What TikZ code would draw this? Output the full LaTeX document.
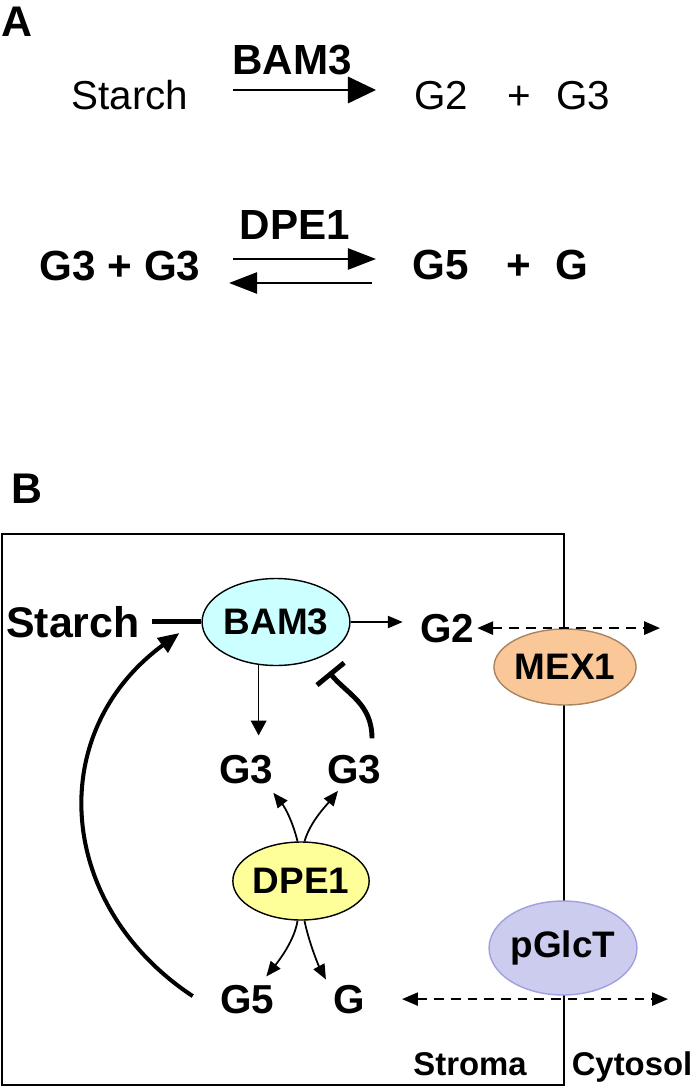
\documentclass[tikz,border=0pt]{standalone}
\usepackage{fontspec}
\setmainfont{Liberation Sans}
\usepackage{tikz}
\usetikzlibrary{
  shapes.geometric,
  arrows.meta,
  positioning
}
\definecolor{BamCyan}{HTML}{CCFFFF}
\definecolor{MexPeach}{HTML}{FAC898}
\definecolor{MexEdge}{HTML}{A88460}
\definecolor{DpeYellow}{HTML}{FFFF99}
\definecolor{GlcLilac}{HTML}{CCCCEE}
\definecolor{GlcEdge}{HTML}{A0A0E0}
\tikzset{
  % Panel letter
  panel/.style={anchor=base, inner sep=0pt, font=\bfseries\fontsize{24.4}{28}\selectfont},
  % Plain sugar text (panel A)
  mol/.style={anchor=base, inner sep=0pt, font=\fontsize{23}{27}\selectfont},
  % Bold sugar text
  bmol/.style={anchor=base, inner sep=0pt, font=\bfseries\fontsize{#1}{28}\selectfont},
  bmol/.default=23,
  % Compartment label
  cmp/.style={anchor=base, inner sep=0pt, font=\bfseries\fontsize{18.7}{22}\selectfont},
  % Enzyme / transporter ellipse
  enz/.style={
    ellipse, draw=black, line width=0.8pt,
    inner sep=0pt, font=\bfseries\fontsize{21}{25}\selectfont
  },
  % Reaction arrows of panel A
  rxn/.style={-{Triangle[length=16pt,width=#1]}, line width=1.4pt},
  rxn/.default=15pt,
  % Thin arrow
  arr/.style={-{Triangle[length=8.5pt,width=#1]}, line width=0.8pt},
  arr/.default=7pt,
  % Dashed transport arrow
  dsh/.style={
    {Triangle[length=9pt,width=7.5pt]}-{Triangle[length=9pt,width=7.5pt]},
    dash pattern=on 5.5pt off 4pt, line width=#1
  },
  dsh/.default=1.2pt,
  % Thick activation
  act/.style={-{Triangle[length=12pt,width=10pt]}, line width=2.3pt},
  % Inhibition
  inhib/.style={-{Bar[width=20pt,line width=2.8pt]}, line width=2.8pt},
  % Membrane box
  wall/.style={draw=black, line width=0.85pt}
}
\begin{document}
\begin{tikzpicture}[x=0.02cm, y=-0.02cm]
  \useasboundingbox (0,0) rectangle (691,1087);

  % Panel A: the two reactions
  \node[panel] (labA) at (17,37) {A};
  \node[mol]      (aStarch) at (130,110) {Starch};
  \node[bmol=24]  (aBam)    at (292,75)  {BAM3};
  \node[mol]      (aG2)     at (441,110) {G2};
  \node[mol]      (aPlusA)  at (519,110) {+};
  \node[mol]      (aG3)     at (583,110) {G3};
  \coordinate (aR1s) at (233,90);
  \coordinate (aR1e) at (376,90);
  \draw[rxn] (aR1s) -- (aR1e);

  \node[bmol=24]  (aDpe)    at (295,240) {DPE1};
  \node[bmol=24]  (aG3G3)   at (120,281) {G3 + G3};
  \node[bmol=24]  (aG5)     at (441,280) {G5};
  \node[bmol=24]  (aPlusB)  at (519,280) {+};
  \node[bmol=24]  (aGlc)    at (572,280) {G};
  \coordinate (aR2s) at (233,259);
  \coordinate (aR2e) at (376,259);
  \coordinate (aR3s) at (372,283);
  \coordinate (aR3e) at (229,283);
  \draw[rxn=12pt] (aR2s) -- (aR2e);
  \draw[rxn=12pt] (aR3s) -- (aR3e);

  % Panel B: stroma box and nodes
  \node[panel] (labB) at (27,503) {B};
  \draw[wall] (2,534) rectangle (564,1085);

  \node[bmol=24.4] (starch) at (73,637) {Starch};
  \node[enz, fill=BamCyan, minimum width=2.84cm, minimum height=1.74cm] (bam) at (276,622) {BAM3};
  \node[bmol] (g2) at (447,642) {G2};
  \node[enz, fill=MexPeach, draw=MexEdge, minimum width=2.76cm, minimum height=1.52cm] (mex) at (565,667) {MEX1};
  \node[bmol] (g3a) at (246,783) {G3};
  \node[bmol] (g3b) at (354,783) {G3};
  \node[enz, fill=DpeYellow, minimum width=2.46cm, minimum height=1.56cm] (dpe) at (301,881) {DPE1};
  \node[bmol] (g5)  at (247,1013) {G5};
  \node[bmol] (glc) at (349,1013) {G};
  \node[enz, fill=GlcLilac, draw=GlcEdge, minimum width=2.66cm, minimum height=1.88cm] (pglct) at (563,948) {pGlcT};
  \node[cmp] (stroma)  at (470,1075) {Stroma};
  \node[cmp] (cytosol) at (632,1075) {Cytosol};
  \coordinate (g2out)  at (660,625);
  \coordinate (glcout) at (668,1000);

  \draw[line width=2.8pt, shorten <=0.24cm] (starch.east) -- (starch.east -| bam.west);
  \draw[arr] (bam.east) -- (bam.east -| g2.west) [shorten >=0.34cm];
  \draw[arr=9pt, shorten >=0.38cm] (bam.248) -- (bam.248 |- g3a.north);
  \draw[dsh, shorten <=0.06cm] (g2.east) -- (g2.east -| g2out);
  \draw[inhib] ([shift={(18,-16)}]g3b.north) .. controls +(0,-35) and +(18,22) .. ([shift={(15,12)}]bam.-45);
  \draw[act] ([shift={(-27,-3)}]g5.west) .. controls +(-136,-90) and +(-136,100) .. ([shift={(-22,11)}]bam.west);

  \draw[arr, line width=1pt] (dpe.95) .. controls +(-5,-20) and +(12,15) .. ([shift={(0,9)}]g3a.south east);
  \draw[arr, line width=1pt] (dpe.85) .. controls +(6,-20) and +(-12,15) .. ([shift={(-16,7)}]g3b.south);
  \draw[arr, line width=1pt] (dpe.-95) .. controls +(-3,20) and +(12,-15) .. ([shift={(-8,-8)}]g5.north east);
  \draw[arr, line width=1pt] (dpe.-85) .. controls +(4,20) and +(-8,-15) .. ([shift={(-7,-5)}]glc.north west);
  \draw[dsh=0.8pt, shorten <=0.74cm] (glc.east) -- (glc.east -| glcout);

\end{tikzpicture}
\end{document}
